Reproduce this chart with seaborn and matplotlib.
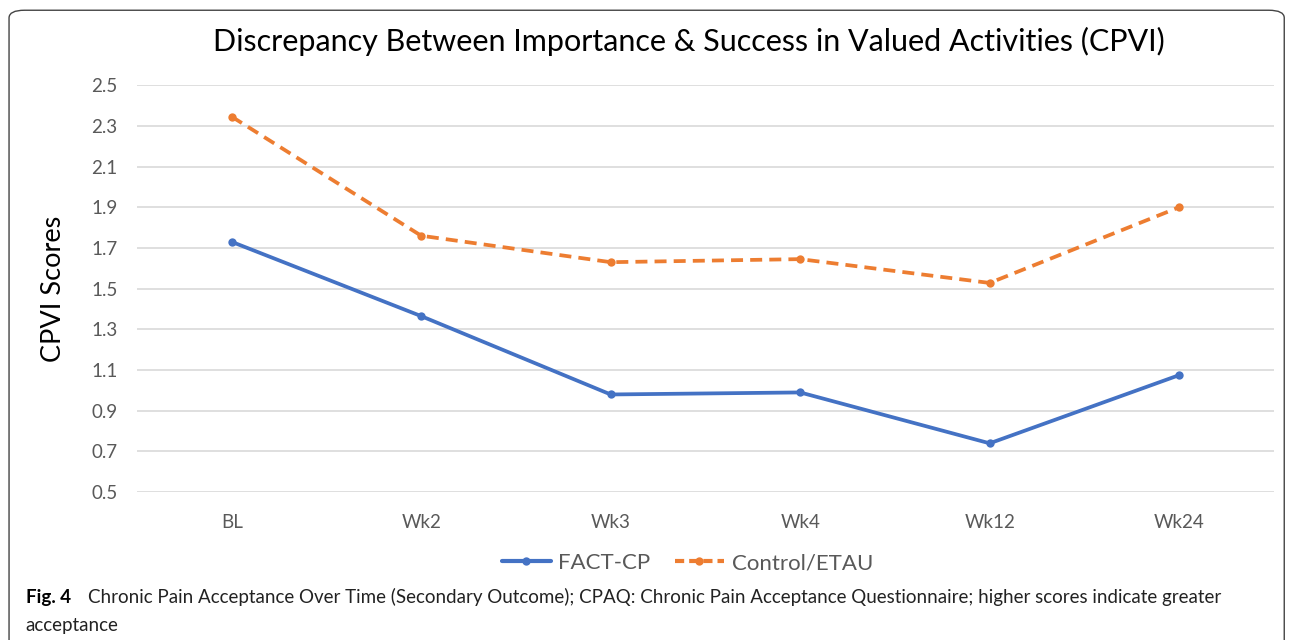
import pandas as pd
import numpy as np
import matplotlib.pyplot as plt
import seaborn as sns
from matplotlib.patches import FancyBboxPatch
from matplotlib.lines import Line2D

# data
timepoints = ["BL", "Wk2", "Wk3", "Wk4", "Wk12", "Wk24"]
fact_cp = [1.73, 1.365, 0.98, 0.99, 0.74, 1.075]
control_etau = [2.345, 1.76, 1.63, 1.645, 1.528, 1.90]
groups = ["FACT-CP", "Control/ETAU"]
y_ticks = [0.5, 0.7, 0.9, 1.1, 1.3, 1.5, 1.7, 1.9, 2.1, 2.3, 2.5]

df = pd.DataFrame({
    "time": timepoints * 2,
    "score": fact_cp + control_etau,
    "group": [groups[0]] * len(timepoints) + [groups[1]] * len(timepoints),
})

sns.set_theme(style="white")
plt.rcParams["font.family"] = ["Lato", "DejaVu Sans"]

blue = "#4472C4"
orange = "#ED7D31"
grey_text = "#595959"

fig = plt.figure(figsize=(12.92, 6.4), dpi=100)
ax = fig.add_axes([0.106, 0.231, 0.88, 0.636])

sns.lineplot(
    data=df, x="time", y="score", hue="group", style="group",
    palette={groups[0]: blue, groups[1]: orange},
    dashes={groups[0]: "", groups[1]: (3.2, 1.9)},
    markers={groups[0]: "o", groups[1]: "o"},
    markersize=6, markeredgewidth=0, linewidth=2.7,
    sort=False, legend=False, ax=ax,
)

ax.set_xlim(-0.5, len(timepoints) - 0.5)
ax.set_ylim(0.5, 2.5)
ax.set_yticks(y_ticks)
ax.set_yticklabels([f"{v:.1f}" for v in y_ticks])
ax.grid(axis="y", color="#D9D9D9", linewidth=1.2)
ax.set_axisbelow(True)
for s in ax.spines.values():
    s.set_visible(False)
ax.tick_params(axis="both", length=0, labelsize=13.5, colors=grey_text, pad=16)
ax.tick_params(axis="y", pad=14)
ax.set_xlabel("")
ax.set_ylabel("CPVI Scores", fontsize=19.5, color="black", labelpad=18)

fig.text(0.533, 0.935, "Discrepancy Between Importance & Success in Valued Activities (CPVI)",
         ha="center", va="center", fontsize=22, color="black")

handles = [
    Line2D([], [], color=blue, lw=3, marker="o", markersize=6, markeredgewidth=0),
    Line2D([], [], color=orange, lw=3, marker="o", markersize=6, markeredgewidth=0,
           dashes=(2.2, 1.2)),
]
leg = fig.legend(handles, groups, loc="center", bbox_to_anchor=(0.532, 0.12), ncol=2,
                 frameon=False, fontsize=16, handlelength=2.2, columnspacing=1.1,
                 handletextpad=0.35)
for t in leg.get_texts():
    t.set_color(grey_text)

# caption below the chart
fig.text(0.020, 0.067, "Fig. 4", ha="left", va="center", fontsize=13.5,
         fontweight="bold", color="black")
fig.text(0.068, 0.067,
         "Chronic Pain Acceptance Over Time (Secondary Outcome); CPAQ: Chronic Pain "
         "Acceptance Questionnaire; higher scores indicate greater",
         ha="left", va="center", fontsize=13.5, color="#222222")
fig.text(0.020, 0.023, "acceptance", ha="left", va="center", fontsize=13.5, color="#222222")

# rounded frame around the figure panel
frame = FancyBboxPatch((0.007, -0.05), 0.987, 1.034, boxstyle="round,pad=0,rounding_size=0.012",
                       transform=fig.transFigure, facecolor="none", edgecolor="#444444",
                       linewidth=1.0, clip_on=False)
fig.patches.append(frame)

fig.savefig("out.png", dpi=100)
